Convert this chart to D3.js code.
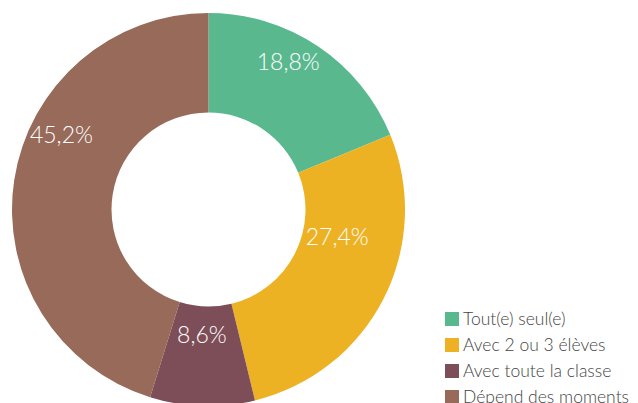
<!DOCTYPE html>
<html>
<head>
<meta charset="utf-8">
<script src="https://cdn.jsdelivr.net/npm/d3@7"></script>
<style>
  body { margin: 0; background: #fff; }
  svg { display: block; font-family: "Lato", "Open Sans", sans-serif; }
</style>
</head>
<body>
<div id="Donut"></div>
<script>
// categories and shares (%)
const categories = ["Tout(e) seul(e)", "Avec 2 ou 3 élèves", "Avec toute la classe", "Dépend des moments"];
const values = [18.8, 27.4, 8.6, 45.2];
const labels = ["18,8%", "27,4%", "8,6%", "45,2%"];
const colors = ["#5ab88f", "#edb223", "#7d4e58", "#976a5a"];
// vertical nudge of the value labels away from the centroid
const labelShiftY = [-26, -39, -21, -53];

const dims = { width: 638, height: 403, cx: 208.5, cy: 209.5, outer: 196.5, inner: 97 };

const svg = d3.select("#Donut")
  .append("svg")
    .attr("width", dims.width)
    .attr("height", dims.height);

const chartG = svg.append("g")
  .attr("transform", `translate(${dims.cx},${dims.cy})`);

const pie = d3.pie().sort(null).value(d => d);
const arcs = pie(values);
const arc = d3.arc().innerRadius(dims.inner).outerRadius(dims.outer);

chartG.selectAll("path")
  .data(arcs)
  .join("path")
    .attr("d", arc)
    .attr("fill", (d, i) => colors[i]);

chartG.selectAll("text")
  .data(arcs)
  .join("text")
    .attr("x", d => arc.centroid(d)[0] - 2)
    .attr("y", (d, i) => arc.centroid(d)[1] + labelShiftY[i])
    .attr("dy", "0.35em")
    .attr("text-anchor", "middle")
    .attr("fill", "#fff")
    .attr("font-size", 23)
    .attr("font-weight", 300)
    .text((d, i) => labels[i]);

const legend = svg.append("g")
  .attr("transform", "translate(445,312)");
const item = legend.selectAll("g")
  .data(categories)
  .join("g")
    .attr("transform", (d, i) => `translate(0,${i * 26})`);
item.append("rect")
  .attr("width", 14)
  .attr("height", 14)
  .attr("fill", (d, i) => colors[i]);
item.append("text")
  .attr("x", 18)
  .attr("y", 7)
  .attr("dy", "0.36em")
  .attr("font-size", 17.5)
  .attr("font-weight", 300)
  .attr("fill", "#444")
  .text(d => d);
</script>
</body>
</html>
